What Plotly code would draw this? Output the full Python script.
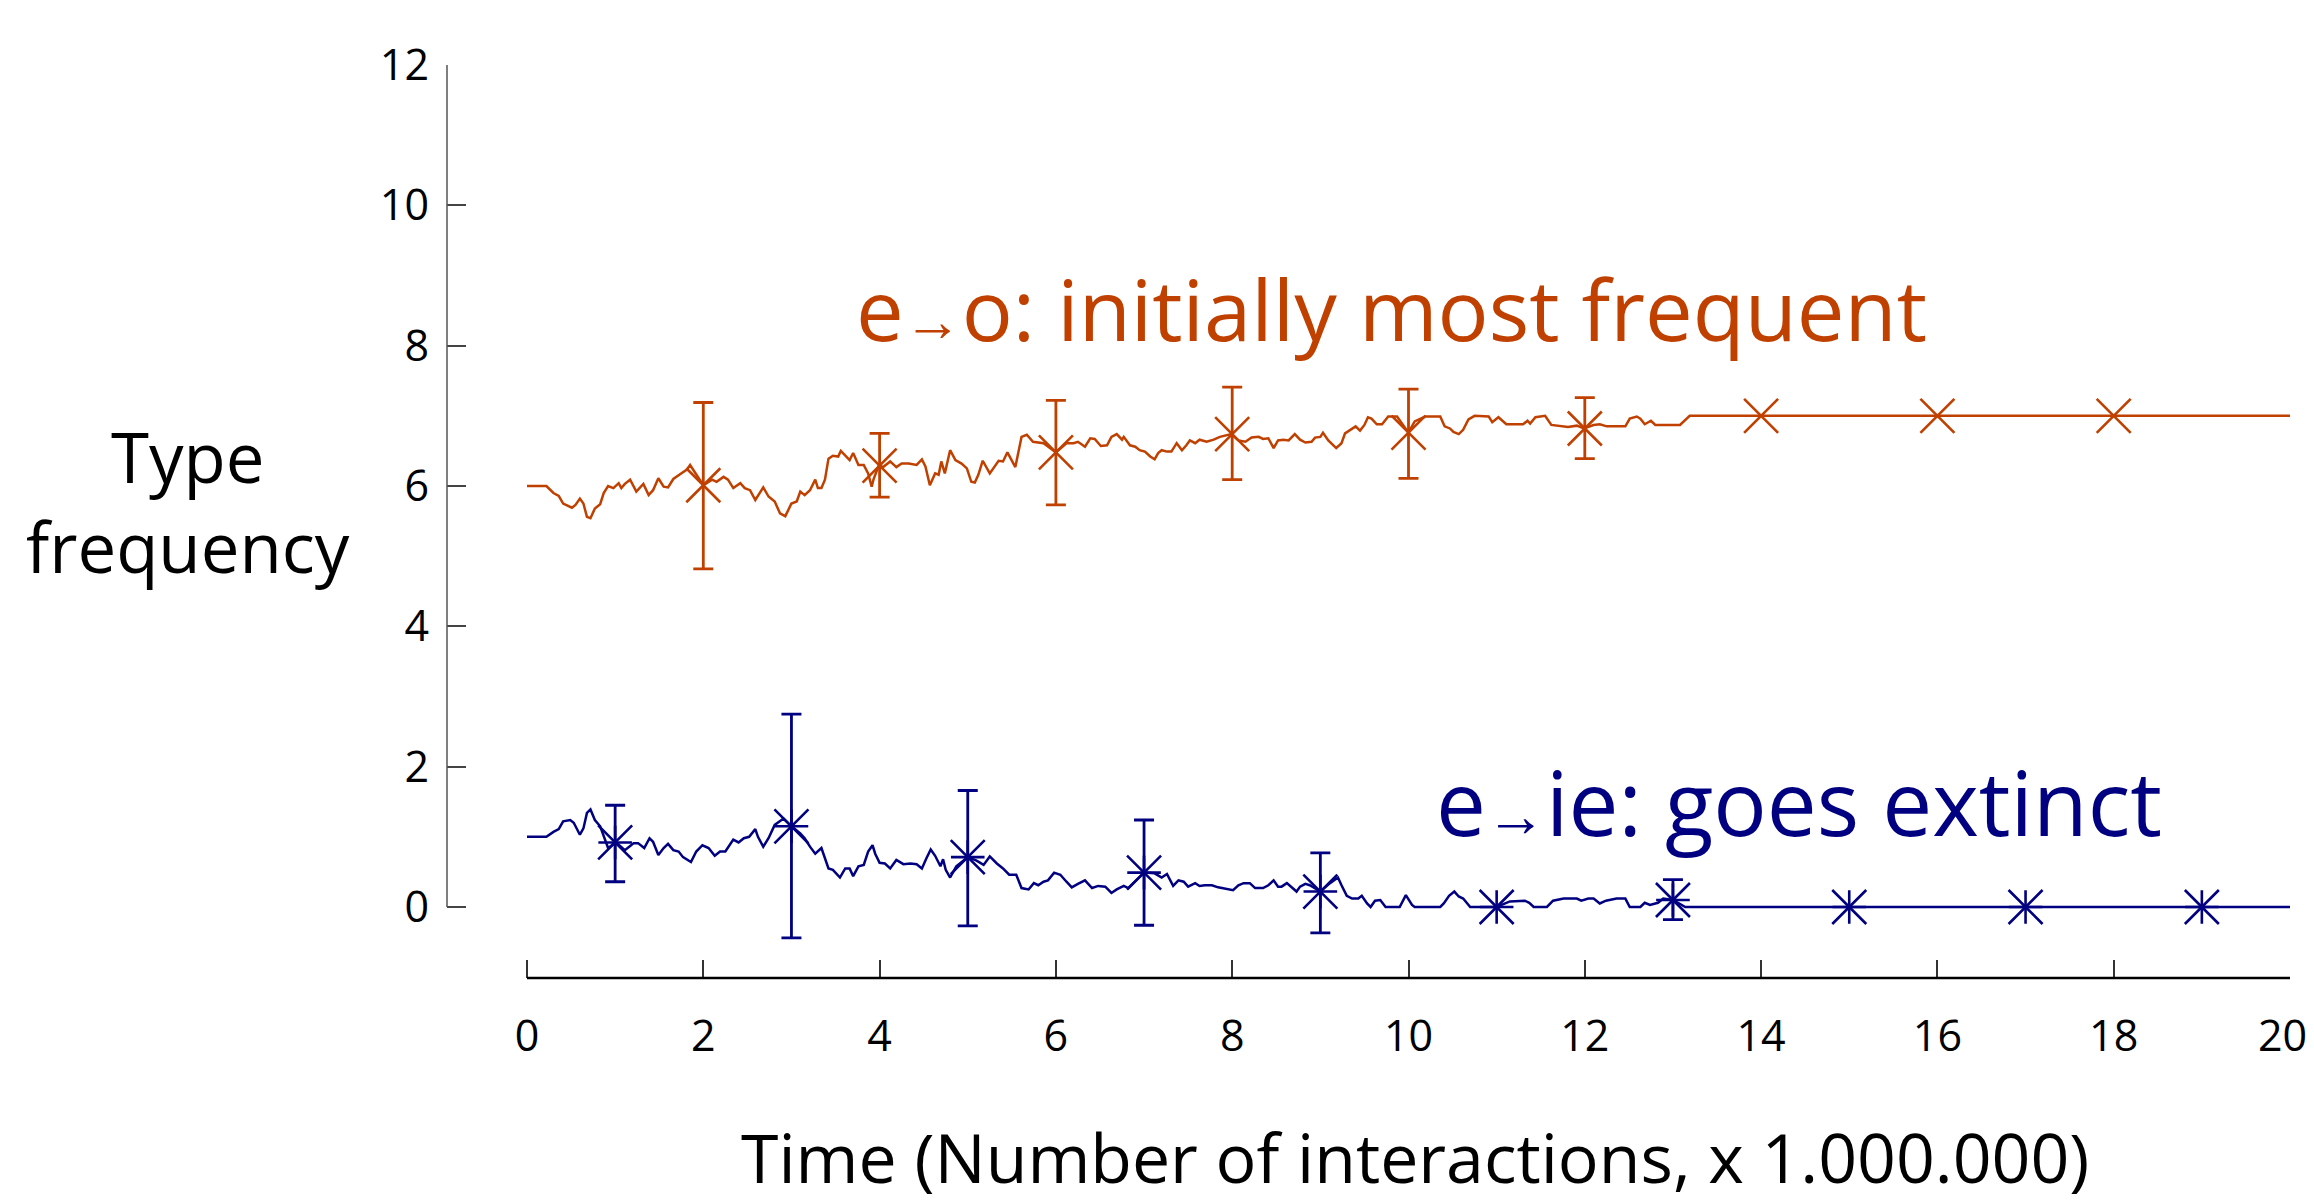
import plotly.graph_objects as go

# ---------------- data ----------------
red_t = [0, 0.22, 0.30, 0.36, 0.41, 0.47, 0.51, 0.55, 0.60, 0.64, 0.68, 0.72, 0.77, 0.83, 0.87, 0.92,
         0.98, 1.04, 1.07, 1.11, 1.17, 1.24, 1.32, 1.38, 1.43, 1.49, 1.55, 1.60, 1.66, 1.74, 1.81, 1.85,
         1.91, 2.00, 2.10, 2.15, 2.23, 2.28, 2.34, 2.42, 2.47, 2.53, 2.59, 2.64, 2.68, 2.74, 2.81, 2.87,
         2.93, 3.00, 3.06, 3.10, 3.15, 3.21, 3.27, 3.30, 3.34, 3.38, 3.42, 3.47, 3.53, 3.56, 3.61, 3.66,
         3.70, 3.76, 3.82, 3.87, 3.91, 3.93, 3.99, 4.04, 4.12, 4.19, 4.25, 4.33, 4.42, 4.48, 4.52, 4.57,
         4.63, 4.67, 4.70, 4.74, 4.80, 4.86, 4.93, 4.99, 5.04, 5.08, 5.12, 5.17, 5.25, 5.35, 5.40, 5.45,
         5.54, 5.61, 5.67, 5.74, 5.86, 6.00, 6.12, 6.20, 6.25, 6.33, 6.39, 6.44, 6.51, 6.58, 6.63, 6.69,
         6.75, 6.77, 6.84, 6.90, 6.95, 7.01, 7.07, 7.12, 7.16, 7.20, 7.26, 7.31, 7.37, 7.43, 7.48, 7.52,
         7.58, 7.63, 7.71, 7.79, 7.86, 7.99, 8.07, 8.15, 8.22, 8.30, 8.35, 8.41, 8.47, 8.52, 8.58, 8.64,
         8.71, 8.77, 8.83, 8.90, 8.94, 9.00, 9.03, 9.09, 9.18, 9.24, 9.28, 9.36, 9.40, 9.45, 9.50, 9.54,
         9.58, 9.64, 9.70, 9.77, 9.87, 10.00, 10.07, 10.19, 10.36, 10.41, 10.47, 10.51, 10.57, 10.62,
         10.68, 10.75, 10.91, 10.95, 11.02, 11.11, 11.30, 11.35, 11.38, 11.44, 11.55, 11.62, 11.72,
         11.81, 11.91, 11.99, 12.10, 12.17, 12.25, 12.36, 12.46, 12.51, 12.59, 12.63, 12.68, 12.75,
         12.80, 12.93, 13.08, 13.19, 20]
red_v = [6.00, 6.00, 5.90, 5.86, 5.75, 5.72, 5.69, 5.73, 5.82, 5.75, 5.56, 5.54, 5.68, 5.74, 5.90, 6.00,
         5.97, 6.04, 5.97, 6.03, 6.09, 5.92, 6.03, 5.87, 5.94, 6.11, 5.99, 5.98, 6.10, 6.17, 6.23, 6.30,
         6.18, 6.01, 6.09, 6.06, 6.13, 6.09, 5.97, 6.04, 5.97, 5.94, 5.80, 5.90, 5.98, 5.85, 5.78, 5.61,
         5.57, 5.75, 5.78, 5.92, 5.87, 5.94, 6.09, 5.97, 5.97, 6.09, 6.39, 6.43, 6.42, 6.50, 6.44, 6.37,
         6.47, 6.30, 6.30, 6.18, 5.99, 6.09, 6.29, 6.27, 6.35, 6.27, 6.32, 6.32, 6.30, 6.38, 6.28, 6.01,
         6.18, 6.16, 6.35, 6.18, 6.51, 6.37, 6.32, 6.25, 6.06, 6.05, 6.16, 6.36, 6.18, 6.36, 6.35, 6.48,
         6.27, 6.70, 6.73, 6.63, 6.61, 6.48, 6.61, 6.61, 6.63, 6.56, 6.68, 6.67, 6.57, 6.58, 6.70, 6.74,
         6.66, 6.70, 6.58, 6.56, 6.51, 6.49, 6.42, 6.38, 6.47, 6.51, 6.49, 6.49, 6.61, 6.51, 6.58, 6.65,
         6.61, 6.66, 6.63, 6.66, 6.70, 6.74, 6.65, 6.63, 6.69, 6.70, 6.67, 6.68, 6.54, 6.65, 6.66, 6.65,
         6.74, 6.66, 6.62, 6.63, 6.69, 6.70, 6.76, 6.65, 6.54, 6.61, 6.75, 6.81, 6.85, 6.79, 6.87, 6.98,
         6.96, 6.88, 6.88, 6.99, 6.99, 6.76, 6.92, 6.99, 6.99, 6.85, 6.82, 6.77, 6.74, 6.80,
         6.95, 7.00, 6.99, 6.91, 6.98, 6.88, 6.88, 6.93, 6.89, 6.98, 7.00, 6.87, 6.85,
         6.84, 6.86, 6.82, 6.87, 6.88, 6.85, 6.85, 6.85, 6.96, 6.99, 6.96, 6.88, 6.93,
         6.87, 6.87, 6.87, 7.00, 7.00]

blue_t = [0, 0.22, 0.30, 0.36, 0.41, 0.49, 0.53, 0.60, 0.64, 0.68, 0.72, 0.77, 0.83, 0.89, 0.92, 1.01,
          1.11, 1.17, 1.21, 1.26, 1.33, 1.39, 1.43, 1.49, 1.55, 1.60, 1.66, 1.72, 1.77, 1.86, 1.92, 1.99,
          2.06, 2.13, 2.19, 2.25, 2.34, 2.40, 2.46, 2.52, 2.59, 2.62, 2.68, 2.74, 2.81, 2.91, 3.00, 3.10,
          3.15, 3.21, 3.27, 3.34, 3.42, 3.47, 3.55, 3.61, 3.66, 3.70, 3.76, 3.82, 3.87, 3.92, 3.95, 4.00,
          4.06, 4.12, 4.19, 4.27, 4.35, 4.42, 4.48, 4.53, 4.58, 4.63, 4.69, 4.72, 4.75, 4.80, 4.87, 5.00,
          5.10, 5.18, 5.25, 5.33, 5.40, 5.47, 5.55, 5.61, 5.69, 5.75, 5.80, 5.86, 5.91, 5.98, 6.05, 6.12,
          6.18, 6.25, 6.33, 6.41, 6.48, 6.56, 6.63, 6.69, 6.77, 6.82, 7.00, 7.12, 7.20, 7.26, 7.33, 7.39,
          7.45, 7.50, 7.58, 7.63, 7.69, 7.77, 7.84, 8.01, 8.07, 8.13, 8.20, 8.26, 8.35, 8.41, 8.47, 8.52,
          8.56, 8.62, 8.67, 8.73, 8.77, 8.83, 8.88, 9.00, 9.11, 9.20, 9.24, 9.30, 9.36, 9.43, 9.47, 9.53,
          9.57, 9.62, 9.68, 9.74, 9.90, 9.97, 10.04, 10.07, 10.36, 10.40, 10.46, 10.52, 10.57, 10.62,
          10.70, 11.00, 11.15, 11.32, 11.37, 11.42, 11.57, 11.64, 11.76, 11.91, 11.96, 12.04, 12.10,
          12.17, 12.24, 12.36, 12.46, 12.51, 12.63, 12.68, 12.74, 12.83, 12.89, 13.00, 13.14, 20]
blue_v = [1.00, 1.00, 1.07, 1.11, 1.22, 1.24, 1.20, 1.03, 1.12, 1.34, 1.39, 1.24, 1.15, 0.93, 0.84, 0.92,
          0.81, 0.87, 0.91, 0.91, 0.84, 0.98, 0.93, 0.74, 0.84, 0.90, 0.81, 0.79, 0.71, 0.64, 0.79, 0.88,
          0.84, 0.73, 0.79, 0.79, 0.96, 0.92, 0.98, 1.00, 1.11, 1.00, 0.86, 0.98, 1.17, 1.26, 1.15, 1.05,
          0.98, 0.86, 0.76, 0.84, 0.55, 0.53, 0.42, 0.55, 0.55, 0.44, 0.58, 0.60, 0.79, 0.88, 0.76, 0.63,
          0.62, 0.55, 0.67, 0.61, 0.62, 0.61, 0.55, 0.69, 0.82, 0.73, 0.58, 0.68, 0.53, 0.42, 0.58, 0.71,
          0.66, 0.60, 0.72, 0.62, 0.55, 0.46, 0.46, 0.27, 0.25, 0.34, 0.31, 0.36, 0.38, 0.49, 0.46, 0.36,
          0.28, 0.33, 0.38, 0.27, 0.30, 0.29, 0.20, 0.25, 0.30, 0.27, 0.49, 0.48, 0.42, 0.47, 0.30, 0.38,
          0.36, 0.29, 0.34, 0.30, 0.31, 0.31, 0.28, 0.24, 0.31, 0.34, 0.34, 0.27, 0.27, 0.31, 0.38, 0.29,
          0.29, 0.34, 0.28, 0.22, 0.29, 0.33, 0.31, 0.22, 0.34, 0.42, 0.31, 0.16, 0.12, 0.12, 0.16, 0.05,
          0.00, 0.09, 0.10, 0.00, 0.00, 0.17, 0.03, 0.00, 0.00, 0.05, 0.16, 0.22, 0.15, 0.12,
          0.00, 0.00, 0.08, 0.09, 0.06, 0.00, 0.00, 0.09, 0.12, 0.12, 0.09, 0.12, 0.12,
          0.05, 0.09, 0.12, 0.12, 0.00, 0.00, 0.06, 0.03, 0.06, 0.12, 0.10, 0.00, 0.00]

red_mark_t = [2, 4, 6, 8, 10, 12, 14, 16, 18]
red_mark_v = [6.01, 6.29, 6.48, 6.74, 6.76, 6.82, 7.00, 7.00, 7.00]
red_err_hi = [7.19, 6.75, 7.22, 7.41, 7.38, 7.26, None, None, None]
red_err_lo = [4.82, 5.84, 5.73, 6.09, 6.11, 6.39, None, None, None]

blue_mark_t = [1, 3, 5, 7, 9, 11, 13, 15, 17, 19]
blue_mark_v = [0.92, 1.15, 0.71, 0.49, 0.22, 0.00, 0.10, 0.00, 0.00, 0.00]
blue_err_hi = [1.45, 2.75, 1.66, 1.24, 0.77, None, 0.39, None, None, None]
blue_err_lo = [0.36, -0.44, -0.27, -0.26, -0.37, None, -0.18, None, None, None]

x_ticks = [0, 2, 4, 6, 8, 10, 12, 14, 16, 18, 20]
x_tick_labels = ["0", "2", "4", "6", "8", "10", "12", "14", "16", "18", "20"]
y_ticks = [0, 2, 4, 6, 8, 10, 12]

RED = "#C04000"
BLUE = "#000080"
FONT = "Open Sans"

fig = go.Figure()

# lines
fig.add_trace(go.Scatter(x=red_t, y=red_v, mode="lines", line=dict(color=RED, width=2.5),
                         hoverinfo="skip"))
fig.add_trace(go.Scatter(x=blue_t, y=blue_v, mode="lines", line=dict(color=BLUE, width=2.5),
                         hoverinfo="skip"))


def err_trace(ts, vs, hi, lo, color):
    idx = [i for i in range(len(ts)) if hi[i] is not None]
    return go.Scatter(
        x=[ts[i] for i in idx], y=[vs[i] for i in idx], mode="markers",
        marker=dict(size=1, opacity=0),
        error_y=dict(type="data", symmetric=False,
                     array=[hi[i] - vs[i] for i in idx],
                     arrayminus=[vs[i] - lo[i] for i in idx],
                     color=color, thickness=2.8, width=10),
        hoverinfo="skip")


fig.add_trace(err_trace(red_mark_t, red_mark_v, red_err_hi, red_err_lo, RED))
fig.add_trace(err_trace(blue_mark_t, blue_mark_v, blue_err_hi, blue_err_lo, BLUE))

# markers
fig.add_trace(go.Scatter(x=red_mark_t, y=red_mark_v, mode="markers",
                         marker=dict(symbol="x-thin", size=34, line=dict(color=RED, width=2.6)),
                         hoverinfo="skip"))
fig.add_trace(go.Scatter(x=blue_mark_t, y=blue_mark_v, mode="markers",
                         marker=dict(symbol="x-thin", size=34, line=dict(color=BLUE, width=2.6)),
                         hoverinfo="skip"))
fig.add_trace(go.Scatter(x=blue_mark_t, y=blue_mark_v, mode="markers",
                         marker=dict(symbol="cross-thin", size=24, line=dict(color=BLUE, width=2.6)),
                         hoverinfo="skip"))

# axis lines (partial)
fig.add_shape(type="line", xref="x", yref="paper", x0=0, x1=20, y0=0, y1=0,
              line=dict(color="black", width=2.5))
fig.add_shape(type="line", xref="paper", yref="y", x0=0, x1=0, y0=0, y1=12,
              line=dict(color="#555555", width=1.5))

# last x tick label (kept inside the page, as in the reference)
fig.add_annotation(text=x_tick_labels[-1], xref="x", yref="paper", x=x_ticks[-1], y=-0.0624,
                   xanchor="center", yanchor="middle", xshift=-8, showarrow=False,
                   font=dict(family=FONT, size=43, color="black"))

# titles and labels
fig.add_annotation(text="Type<br>frequency", xref="paper", yref="paper", x=-0.1405, y=0.522,
                   xanchor="center", yanchor="middle", showarrow=False, align="center",
                   font=dict(family=FONT, size=69, color="black"))
fig.add_annotation(text="Time (Number of interactions, x 1.000.000)", xref="paper", yref="paper",
                   x=0.525, y=-0.195, xanchor="center", yanchor="middle", showarrow=False,
                   font=dict(family=FONT, size=68, color="black"))
fig.add_annotation(text="e<span style='font-size:58px'>→</span>o: initially most frequent",
                   xref="x", yref="y", x=9.81, y=8.53, xanchor="center", yanchor="middle",
                   showarrow=False, font=dict(family=FONT, size=85, color=RED))
fig.add_annotation(text="e<span style='font-size:60px'>→</span>ie: goes extinct",
                   xref="x", yref="y", x=14.43, y=1.51, xanchor="center", yanchor="middle",
                   showarrow=False, font=dict(family=FONT, size=89, color=BLUE))

fig.update_layout(
    width=2314, height=1203,
    margin=dict(l=447, r=24, t=65, b=225),
    paper_bgcolor="white", plot_bgcolor="white",
    showlegend=False,
    xaxis=dict(range=[-0.9076, 20], tickvals=x_ticks,
               ticktext=x_tick_labels[:-1] + [""],
               ticks="inside", ticklen=18, tickwidth=1.5,
               tickcolor="#333333", showline=False, showgrid=False, zeroline=False,
               ticklabelstandoff=29, tickfont=dict(family=FONT, size=43, color="black")),
    yaxis=dict(range=[-1.012, 12], tickvals=y_ticks, ticks="inside", ticklen=19, tickwidth=1.5,
               tickcolor="#444444", showline=False, showgrid=False, zeroline=False,
               ticklabelstandoff=17, tickfont=dict(family=FONT, size=43, color="black")),
)

fig.write_html("out.html", config={"displayModeBar": False},
               post_script="document.body.style.margin='0';document.body.style.overflow='hidden';")
